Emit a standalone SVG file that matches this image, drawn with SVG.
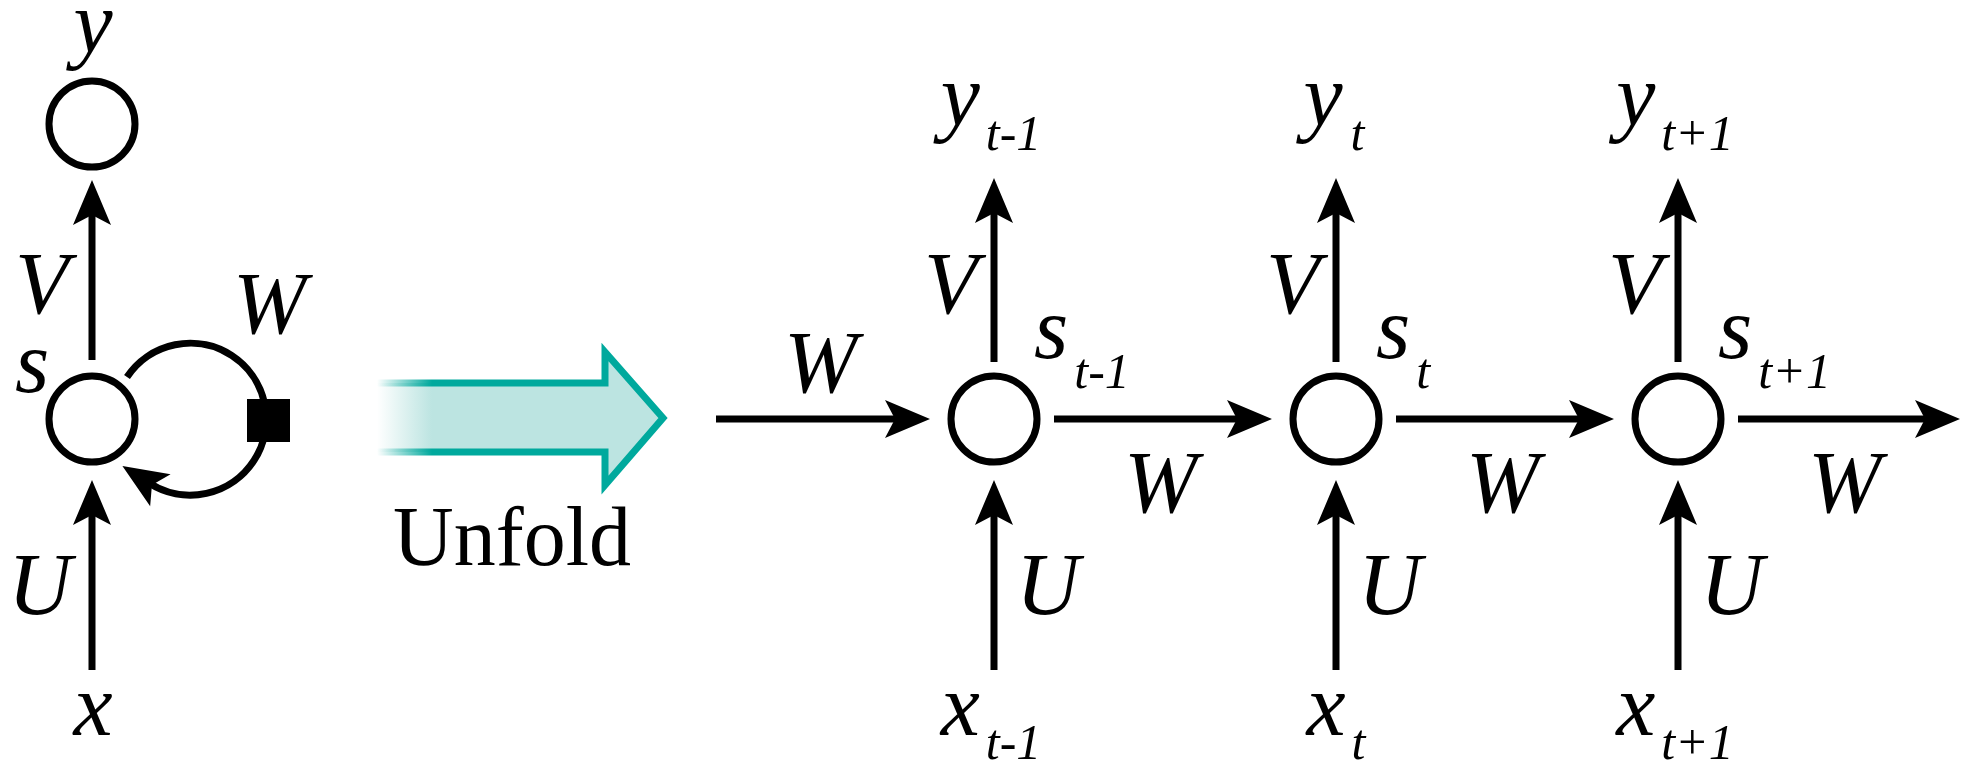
<svg xmlns="http://www.w3.org/2000/svg" width="1969" height="771" viewBox="0 0 1969 771">
<style>
  .node { fill: #fff; stroke: #000; stroke-width: 7; }
  .edge { fill: none; stroke: #000; stroke-width: 7; marker-end: url(#ah); }
  .lbl { font-family: "Liberation Serif", "Times New Roman", serif; font-style: italic; font-size: 88px; fill: #000; }
  .sub { font-size: 50px; }
  .unfold { font-family: "Liberation Serif", "Times New Roman", serif; font-style: normal; font-size: 84px; fill: #000; }
</style>
<defs>
  <marker id="ah" markerUnits="userSpaceOnUse" viewBox="-46 -20 47 40" markerWidth="47" markerHeight="40" refX="-32" refY="0" orient="auto">
    <path d="M0,0 L-45,-19 L-35,0 L-45,19 Z" fill="#000"/>
  </marker>
  <linearGradient id="gFill" gradientUnits="userSpaceOnUse" x1="377" y1="0" x2="432" y2="0">
    <stop offset="0" stop-color="#BCE4E1" stop-opacity="0"/>
    <stop offset="1" stop-color="#BCE4E1" stop-opacity="1"/>
  </linearGradient>
  <linearGradient id="gStroke" gradientUnits="userSpaceOnUse" x1="377" y1="0" x2="432" y2="0">
    <stop offset="0" stop-color="#00A99D" stop-opacity="0"/>
    <stop offset="1" stop-color="#00A99D" stop-opacity="1"/>
  </linearGradient>
</defs>
<rect width="1969" height="771" fill="#fff"/>

<!-- Folded RNN -->
<g id="node-y">
  <circle class="node" cx="92" cy="124" r="43"/>
  <text class="lbl" x="93" y="52" text-anchor="middle">y</text>
</g>
<g id="node-s">
  <circle class="node" cx="92" cy="419" r="43"/>
  <text class="lbl" x="15" y="392">s</text>
</g>
<g id="node-x">
  <text class="lbl" x="93" y="735" text-anchor="middle">x</text>
</g>

<!-- Unfold arrow -->
<g id="unfold">
  <polygon points="377,383 605,383 605,352 663,418 605,485 605,452 377,452" fill="url(#gFill)"/>
  <polyline points="377,383 605,383 605,352 663,418 605,485 605,452 377,452" fill="none" stroke="url(#gStroke)" stroke-width="7" stroke-linejoin="miter"/>
  <text class="unfold" x="393" y="565">Unfold</text>
</g>

<!-- Unfolded nodes -->
<g id="node-s-t-1">
  <circle class="node" cx="994" cy="419" r="43"/>
  <text class="lbl" x="1034" y="358">s<tspan class="sub" dx="6" dy="30">t-1</tspan></text>
</g>
<g id="node-s-t">
  <circle class="node" cx="1336" cy="419" r="43"/>
  <text class="lbl" x="1376" y="358">s<tspan class="sub" dx="6" dy="30">t</tspan></text>
</g>
<g id="node-s-t+1">
  <circle class="node" cx="1678" cy="419" r="43"/>
  <text class="lbl" x="1718" y="358">s<tspan class="sub" dx="6" dy="30">t+1</tspan></text>
</g>
<g id="node-y-t-1">
  <text class="lbl" x="991" y="125" text-anchor="middle">y<tspan class="sub" dx="6" dy="25">t-1</tspan></text>
</g>
<g id="node-y-t">
  <text class="lbl" x="1334" y="125" text-anchor="middle">y<tspan class="sub" dx="8" dy="25">t</tspan></text>
</g>
<g id="node-y-t+1">
  <text class="lbl" x="1675" y="125" text-anchor="middle">y<tspan class="sub" dx="6" dy="25">t+1</tspan></text>
</g>
<g id="node-x-t-1">
  <text class="lbl" x="991" y="735" text-anchor="middle">x<tspan class="sub" dx="6" dy="24">t-1</tspan></text>
</g>
<g id="node-x-t">
  <text class="lbl" x="1336" y="735" text-anchor="middle">x<tspan class="sub" dx="6" dy="24">t</tspan></text>
</g>
<g id="node-x-t+1">
  <text class="lbl" x="1675" y="735" text-anchor="middle">x<tspan class="sub" dx="6" dy="24">t+1</tspan></text>
</g>

<!-- Connectors -->
<g id="connectors">
  <line class="edge" x1="92" y1="360" x2="92" y2="212"/>
  <line class="edge" x1="92" y1="670" x2="92" y2="512"/>
  <path class="edge" d="M127,377 A76,76 0 1 1 149.4,483.3"/>
  <rect x="247" y="399" width="43" height="43" fill="#000"/>

  <line class="edge" x1="716" y1="419" x2="898" y2="419"/>
  <line class="edge" x1="1054" y1="419" x2="1240" y2="419"/>
  <line class="edge" x1="1396" y1="419" x2="1582" y2="419"/>
  <line class="edge" x1="1738" y1="419" x2="1928" y2="419"/>

  <line class="edge" x1="994" y1="362" x2="994" y2="210"/>
  <line class="edge" x1="1336" y1="362" x2="1336" y2="210"/>
  <line class="edge" x1="1678" y1="362" x2="1678" y2="210"/>

  <line class="edge" x1="994" y1="670" x2="994" y2="512"/>
  <line class="edge" x1="1336" y1="670" x2="1336" y2="512"/>
  <line class="edge" x1="1678" y1="670" x2="1678" y2="512"/>
</g>

<!-- Edge labels -->
<g id="edge-labels">
  <text class="lbl" x="15" y="313">V</text>
  <text class="lbl" x="233" y="333">W</text>
  <text class="lbl" x="8" y="614">U</text>

  <text class="lbl" x="784" y="392">W</text>

  <text class="lbl" x="924" y="313">V</text>
  <text class="lbl" x="1266" y="313">V</text>
  <text class="lbl" x="1608" y="313">V</text>

  <text class="lbl" x="1124" y="512">W</text>
  <text class="lbl" x="1466" y="512">W</text>
  <text class="lbl" x="1808" y="512">W</text>

  <text class="lbl" x="1016" y="614">U</text>
  <text class="lbl" x="1358" y="614">U</text>
  <text class="lbl" x="1700" y="614">U</text>
</g>
</svg>
